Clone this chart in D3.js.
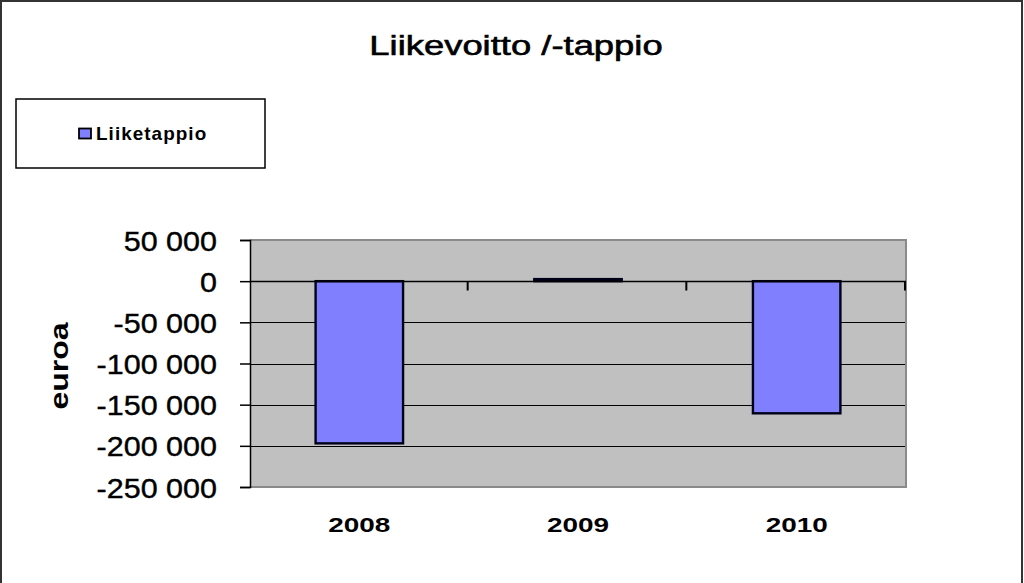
<!DOCTYPE html>
<html><head><meta charset="utf-8">
<script src="https://cdn.jsdelivr.net/npm/d3@7"></script>
<style>
html,body{margin:0;padding:0;background:#fff;}
svg{display:block;font-family:"Liberation Sans",Arial,sans-serif;}
</style></head>
<body>
<svg id="c" width="1024" height="583"></svg>
<script>
const categories = ["2008", "2009", "2010"];
const values = [-197000, 2500, -160500];
const seriesName = "Liiketappio";
const yTicks = [50000, 0, -50000, -100000, -150000, -200000, -250000];
const title = "Liikevoitto /-tappio";
const yTitle = "euroa";

const svg = d3.select("#c");
const W = 1024, H = 583;
const plot = {l: 250, r: 906, t: 240, b: 487};

// outer frame
svg.append("rect").attr("x", 1).attr("y", 1).attr("width", 1021).attr("height", H + 10)
  .attr("fill", "#fff").attr("stroke", "#333").attr("stroke-width", 2);

function stext(x, y, txt, size, sx, opts = {}) {
  const t = svg.append("text")
    .attr("transform", `translate(${x},${y})${opts.rotate ? " rotate(" + opts.rotate + ")" : ""} scale(${sx},1)`)
    .attr("font-size", size)
    .attr("font-weight", opts.bold ? "bold" : "normal")
    .attr("text-anchor", opts.anchor || "middle")
    .attr("fill", "#000")
    .text(txt);
  if (opts.ls) t.attr("letter-spacing", opts.ls);
  if (opts.sw) t.attr("stroke", "#000").attr("stroke-width", opts.sw);
  return t;
}

// title
stext(516, 55, title, 28, 1.3, {sw: 0.6});

// legend
svg.append("rect").attr("x", 16).attr("y", 99).attr("width", 249).attr("height", 69)
  .attr("fill", "#fff").attr("stroke", "#000").attr("stroke-width", 1.5);
svg.append("rect").attr("x", 79).attr("y", 128.5).attr("width", 12).attr("height", 10)
  .attr("fill", "#8080FF").attr("stroke", "#000").attr("stroke-width", 1.8);
stext(96, 140, seriesName, 18, 1.05, {bold: true, anchor: "start", ls: 1});

// scales
const y = d3.scaleLinear().domain([-250000, 50000]).range([plot.b, plot.t]);
const x = d3.scaleBand().domain(categories).range([plot.l, plot.r]).paddingInner(0.6).paddingOuter(0.3);

// plot area
svg.append("rect").attr("x", plot.l).attr("y", plot.t).attr("width", plot.r - plot.l).attr("height", plot.b - plot.t)
  .attr("fill", "#C0C0C0");

// gridlines
svg.append("g").selectAll("line").data(yTicks.filter(d => d !== 50000 && d !== -250000 && d !== 0)).join("line")
  .attr("x1", plot.l).attr("x2", plot.r).attr("y1", d => Math.round(y(d)) + 0.5).attr("y2", d => Math.round(y(d)) + 0.5)
  .attr("stroke", "#000").attr("stroke-width", 1.2);

// plot border (gray)
svg.append("path")
  .attr("d", `M${plot.l},${plot.t}H${plot.r}V${plot.b}H${plot.l}`)
  .attr("fill", "none").attr("stroke", "#8a8a8a").attr("stroke-width", 2);

// bars
svg.append("g").selectAll("rect").data(values).join("rect")
  .attr("x", (d, i) => x(categories[i]))
  .attr("width", x.bandwidth())
  .attr("y", d => y(Math.max(0, d)))
  .attr("height", d => Math.abs(y(d) - y(0)))
  .attr("fill", "#8080FF").attr("stroke", "#000018").attr("stroke-width", 2.4);

// zero line (category axis)
const y0 = Math.round(y(0)) + 0.5;
svg.append("line").attr("x1", plot.l).attr("x2", plot.r).attr("y1", y0).attr("y2", y0)
  .attr("stroke", "#000").attr("stroke-width", 1.5);
// category ticks between bands
const catTicks = d3.range(0, categories.length + 1).map(i => plot.l + i * (plot.r - plot.l) / categories.length);
svg.append("g").selectAll("line").data(catTicks.slice(1)).join("line")
  .attr("x1", d => d - 1).attr("x2", d => d - 1).attr("y1", y0).attr("y2", y0 + 9)
  .attr("stroke", "#000").attr("stroke-width", 2);

// y axis
const yAxis = d3.axisLeft(y).tickValues(yTicks).tickSize(10).tickFormat(() => "");
const ga = svg.append("g").attr("transform", `translate(${plot.l},0)`).call(yAxis);
ga.select(".domain").attr("stroke", "#000").attr("stroke-width", 1.5);
ga.selectAll(".tick line").attr("stroke", "#000").attr("stroke-width", 1.5);

const fmt = d => d3.format(",")(d).replace(/,/g, " ").replace("−", "-");
yTicks.forEach(v => stext(217, y(v) + 10.5, fmt(v), 28, 1.09, {anchor: "end", sw: 0.4}));

// y title
stext(68, 366, yTitle, 25, 1.28, {bold: true, rotate: -90});

// category labels
categories.forEach(c => stext(x(c) + x.bandwidth() / 2, 532, c, 21, 1.33, {bold: true}));
</script>
</body></html>
